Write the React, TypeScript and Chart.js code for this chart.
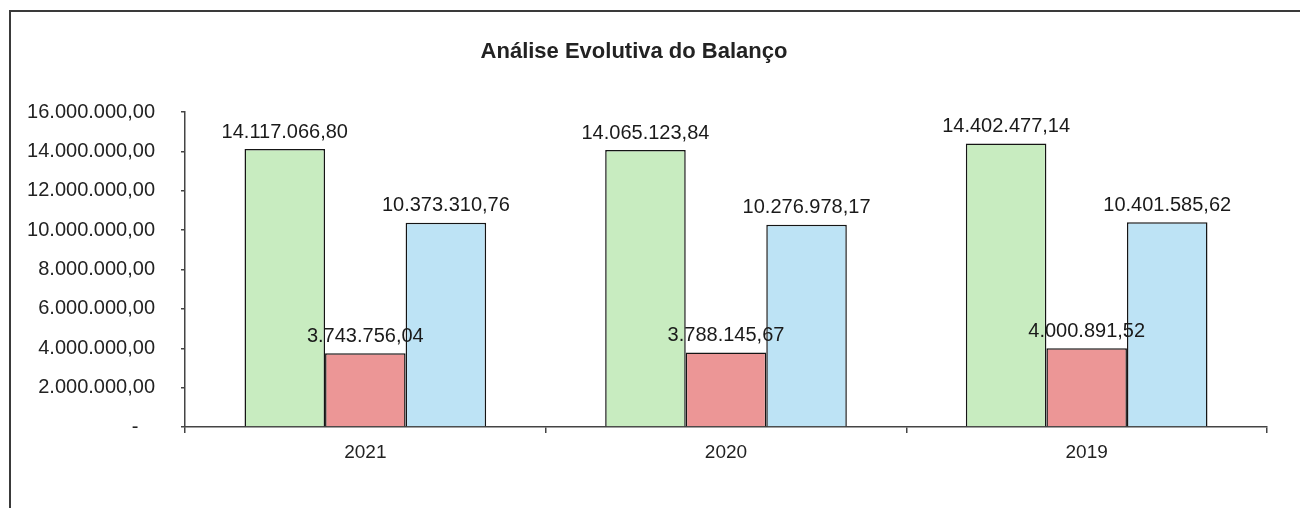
import React, { useEffect, useRef } from "react";
import { Chart, registerables } from "chart.js";

Chart.register(...registerables);

const categories = ["2021", "2020", "2019"];
const seriesNames = ["Ativo", "Passivo", "Patrimônio Líquido"];
const ativo = [14117066.8, 14065123.84, 14402477.14];
const passivo = [3743756.04, 3788145.67, 4000891.52];
const patrimonio = [10373310.76, 10276978.17, 10401585.62];
const yTicks = [0, 2000000, 4000000, 6000000, 8000000, 10000000, 12000000, 14000000, 16000000];
const titleText = "Análise Evolutiva do Balanço";

const FONT = "'Liberation Sans', Arial, sans-serif";

function fmt(v: number): string {
  const neg = v < 0;
  const s = Math.abs(v).toFixed(2);
  const [ip, dp] = s.split(".");
  const withDots = ip.replace(/\B(?=(\d{3})+(?!\d))/g, ".");
  return (neg ? "-" : "") + withDots + "," + dp;
}

const framePlugin = {
  id: "frame",
  beforeDraw(chart: any) {
    const ctx = chart.ctx;
    ctx.save();
    ctx.fillStyle = "#ffffff";
    ctx.fillRect(0, 0, chart.width, chart.height);
    ctx.strokeStyle = "#3a3a3a";
    ctx.lineWidth = 2;
    ctx.beginPath();
    ctx.moveTo(10, chart.height + 5);
    ctx.lineTo(10, 11);
    ctx.lineTo(chart.width + 5, 11);
    ctx.stroke();
    ctx.fillStyle = "#222222";
    ctx.font = "bold 22px " + FONT;
    ctx.textAlign = "center";
    ctx.textBaseline = "middle";
    ctx.fillText(titleText, 634, 52);
    ctx.restore();
  },
};

const labelPlugin = {
  id: "valueLabels",
  afterDatasetsDraw(chart: any) {
    const ctx = chart.ctx;
    ctx.save();
    ctx.font = "20px " + FONT;
    ctx.fillStyle = "#1a1a1a";
    ctx.textAlign = "center";
    ctx.textBaseline = "bottom";
    chart.data.datasets.forEach((ds: any, i: number) => {
      const meta = chart.getDatasetMeta(i);
      meta.data.forEach((bar: any, j: number) => {
        ctx.fillText(fmt(ds.data[j]), bar.x, bar.y - 7);
      });
    });
    ctx.restore();
  },
};

export default function App() {
  const ref = useRef<HTMLCanvasElement | null>(null);
  useEffect(() => {
    if (!ref.current) return;
    const chart = new Chart(ref.current, {
      type: "bar",
      data: {
        labels: categories,
        datasets: [
          { label: seriesNames[0], data: ativo, backgroundColor: "#c8ecc0", borderColor: "#151515", borderWidth: 1.5 },
          { label: seriesNames[1], data: passivo, backgroundColor: "#ec9696", borderColor: "#151515", borderWidth: 1.5 },
          { label: seriesNames[2], data: patrimonio, backgroundColor: "#bde3f5", borderColor: "#151515", borderWidth: 1.5 },
        ],
      },
      options: {
        animation: false,
        responsive: false,
        maintainAspectRatio: false,
        layout: { padding: { left: 0, top: 112, right: 33, bottom: 0 } },
        plugins: {
          legend: { display: false },
          title: { display: false },
          tooltip: { enabled: false },
        },
        datasets: {
          bar: { categoryPercentage: 0.67, barPercentage: 1.0 },
        },
        scales: {
          x: {
            offset: true,
            grid: {
              offset: true,
              drawOnChartArea: false,
              drawTicks: true,
              tickLength: 6,
              color: "#444444",
              lineWidth: 1.5,
            },
            border: { display: true, color: "#444444", width: 1.5 },
            ticks: {
              color: "#222222",
              font: { family: FONT, size: 19 },
              padding: 8,
            },
            afterFit: (s: any) => {
              s.height = 81;
            },
          },
          y: {
            min: 0,
            max: 16000000,
            afterBuildTicks: (s: any) => {
              s.ticks = yTicks.map((v) => ({ value: v }));
            },
            grid: {
              drawOnChartArea: false,
              drawTicks: true,
              tickLength: 4,
              color: "#444444",
              lineWidth: 1.5,
            },
            border: { display: true, color: "#444444", width: 1.5 },
            ticks: {
              color: "#222222",
              font: { family: FONT, size: 20 },
              padding: 26,
              callback: (v: any) => (Number(v) === 0 ? "-   " : fmt(Number(v))),
            },
            afterFit: (s: any) => {
              s.width = 185;
            },
          },
        },
      },
      plugins: [framePlugin, labelPlugin],
    });
    return () => chart.destroy();
  }, []);
  return (
    <div style={{ position: "fixed", left: 0, top: 0, width: 1300, height: 508, background: "#fff" }}>
      <canvas ref={ref} width={1300} height={508} style={{ display: "block", width: 1300, height: 508 }} />
    </div>
  );
}
